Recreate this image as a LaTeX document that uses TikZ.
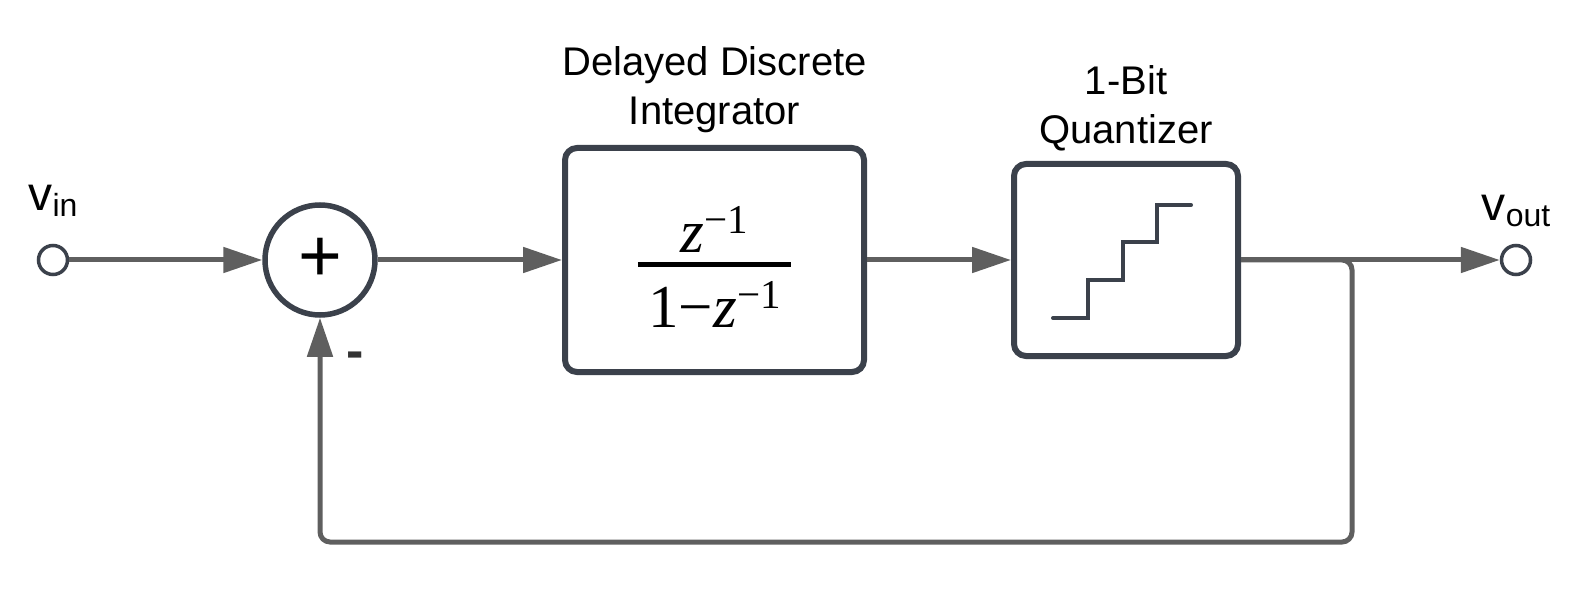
\documentclass[tikz,border=0pt]{standalone}
\usepackage{amsmath}
\usepackage{fontspec}
\setmainfont{Liberation Sans}
\newfontfamily\tmsfont{Liberation Serif}
\usetikzlibrary{arrows.meta,positioning}
\definecolor{edgegray}{HTML}{5F5F5F}
\definecolor{boxslate}{HTML}{3B414B}
\newcommand\zsup{\raisebox{9.5pt}{\upshape\fontsize{20.5}{21}\selectfont −1}}
\begin{document}
\begin{tikzpicture}[x=0.5pt, y=-0.5pt, node distance=195pt,
   port/.style={circle, draw=boxslate, line width=1.75pt, fill=white, minimum size=14.5pt, inner sep=0pt},
   sumnode/.style={circle, draw=boxslate, line width=2.75pt, minimum size=55pt, inner sep=0pt, font=\fontsize{37.5}{40}\selectfont},
   block/.style={rectangle, rounded corners=6pt, draw=boxslate, line width=3pt, inner sep=0pt},
   blocklabel/.style={align=center, inner sep=0pt, font=\fontsize{20}{24.5}\selectfont},
   signlabel/.style={inner sep=0pt, text=black!80, font=\fontsize{26}{30}\selectfont\bfseries},
   wire/.style={draw=edgegray, line width=2.5pt, -{Triangle[length=19.5pt,width=12.5pt]}},
   stair/.style={draw=boxslate, line width=2pt, line cap=round, line join=miter}]
   \useasboundingbox (0,0) rectangle (1588,598);
   \node     (vin)   [port] at (53,260) {};
   \node     (sum)   [sumnode, right of=vin, node distance=133.5pt] {+};
   \node     (integ) [block, minimum width=149.5pt, minimum height=112pt, right of=sum, node distance=197.25pt]
      {\tmsfont\fontsize{30.5}{35}\selectfont
       $\genfrac{}{}{2.5pt}{0}{\raisebox{-4.5pt}[\dimexpr\height+2.5pt][0pt]{\hbox to 76.6pt{\hss\itshape z\zsup\hss}}}{\hbox{1−\itshape z\zsup}}$};
   \node     (quant) [block, minimum width=112pt, minimum height=96pt, right of=integ, node distance=205.75pt] {};
   \node     (vout)  [port, right of=quant] {};
   \node     (integlabel) [blocklabel, above of=integ, node distance=85.4pt] {Delayed Discrete\\Integrator};
   \node     (quantlabel) [blocklabel, above of=quant, node distance=75.8pt] {1-Bit\\Quantizer};
   \node     (vinlabel)  [inner sep=0pt, above of=vin, node distance=29.75pt]
      {\fontsize{24}{28}\selectfont v\raisebox{-3pt}{\fontsize{16}{18}\selectfont in}};
   \node     (voutlabel) [inner sep=0pt, above of=vout, node distance=24.75pt]
      {\fontsize{24}{28}\selectfont v\raisebox{-3pt}{\fontsize{16}{18}\selectfont out}};
   \node     (minus) [signlabel] at (355,360) {-};
   % staircase symbol
   \draw[stair] ([shift={(-73,58)}]quant.center) -- ++(35,0) -- ++(0,-38) -- ++(35,0) -- ++(0,-38)
      -- ++(34,0) -- ++(0,-37) -- ++(34,0);
   \draw[wire] (vin) -- (sum);
   \draw[wire] (sum) -- (integ);
   \draw[wire] (integ) -- (quant);
   \draw[wire] (quant) -- (vout);
   % feedback
   \coordinate (fbtop) at (1352,260);
   \coordinate (fbbot) at (1352,542);
   \draw[wire, rounded corners=5pt] (quant.east) -- (fbtop) -- (fbbot) -| (sum.south);
 \end{tikzpicture}
\end{document}
